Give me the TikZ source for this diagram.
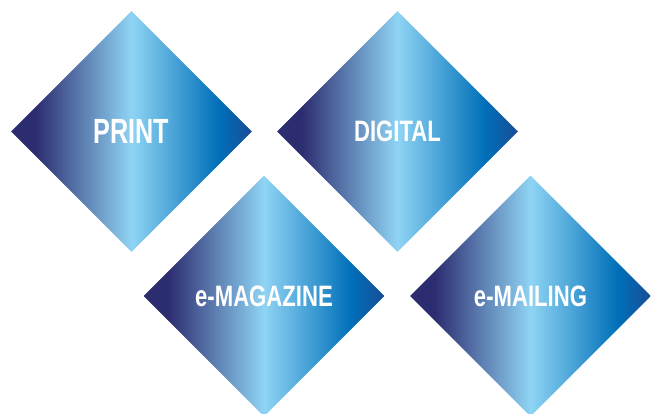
\documentclass[tikz,border=0pt]{standalone}
\usepackage{fontspec}
\usetikzlibrary{shapes.geometric}
\newfontfamily\lblfont[FakeStretch=0.75]{Liberation Sans}
\newfontfamily\bigfont[FakeStretch=0.72]{Liberation Sans}
\definecolor{dnavy}{RGB}{44,44,112}
\definecolor{lblue}{RGB}{143,212,244}
\definecolor{mblue}{RGB}{0,112,185}
\definecolor{dblue}{RGB}{24,76,150}
\pgfdeclarehorizontalshading{diagshade}{100bp}{color(0bp)=(dnavy); color(25bp)=(dnavy); color(30bp)=(dnavy); color(50bp)=(lblue); color(68bp)=(mblue); color(75bp)=(dblue); color(100bp)=(dblue)}
\tikzset{
  dia/.style={diamond, aspect=1, minimum width=241pt, minimum height=241pt, inner sep=0pt, shading=diagshade, draw=none, text=white, font=\lblfont\bfseries\fontsize{29.5}{29.5}\selectfont},
  big/.style={font=\bigfont\bfseries\fontsize{35}{35}\selectfont}
}
\begin{document}
\begin{tikzpicture}[x=1pt,y=-1pt]
\useasboundingbox (0,0) rectangle (651,413);
\node[dia,big] (print) at (131.5,131.5) {PRINT};
\node[dia] (digital) at (397.5,131.5) {DIGITAL};
\node[dia] (emag) at (264,296) {e-MAGAZINE};
\node[dia] (email) at (530.5,296) {e-MAILING};
\end{tikzpicture}
\end{document}
